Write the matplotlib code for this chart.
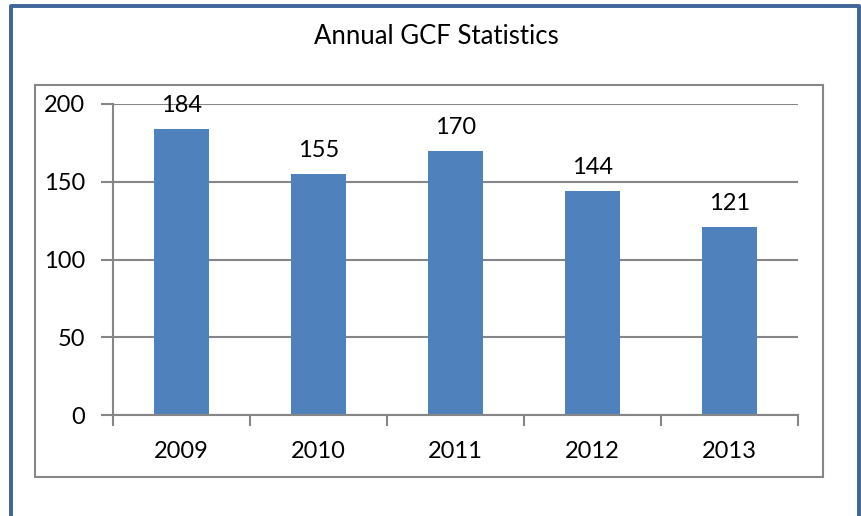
import matplotlib
matplotlib.use("Agg")
import matplotlib.pyplot as plt
from matplotlib.patches import Rectangle
from matplotlib.lines import Line2D

# data
years = ["2009", "2010", "2011", "2012", "2013"]
gcf_counts = [184, 155, 170, 144, 121]
y_ticks = [0, 50, 100, 150, 200]

plt.rcParams["font.family"] = ["Lato", "DejaVu Sans"]

BAR = "#4F81BD"
GRID = "#868686"
FRAME = "#3F6497"

fig = plt.figure(figsize=(8.61, 5.16), dpi=100)
ax = fig.add_axes([113 / 861, 1 - 415 / 516, (798 - 113) / 861, (415 - 104) / 516])

x = range(len(years))
ax.bar(x, gcf_counts, width=0.4, color=BAR, zorder=3)
for xi, v in zip(x, gcf_counts):
    ax.annotate(str(v), (xi, v), xytext=(0, 17), textcoords="offset points",
                ha="center", va="center", fontsize=17)

ax.set_xlim(-0.5, len(years) - 0.5)
ax.set_ylim(0, 200)
ax.set_yticks(y_ticks)
ax.set_yticklabels([str(t) for t in y_ticks], fontsize=17)
ax.set_xticks(list(x))
ax.set_xticklabels(years, fontsize=17)
ax.tick_params(axis="x", length=0, pad=19)
ax.set_xticks([i - 0.5 for i in range(len(years) + 1)], minor=True)
ax.tick_params(axis="x", which="minor", length=8, width=1.5, color=GRID)
ax.tick_params(axis="y", length=9, width=1.5, color=GRID, pad=11)
ax.grid(axis="y", color=GRID, linewidth=1.5, zorder=0)
for s in ("top", "right"):
    ax.spines[s].set_visible(False)
for s in ("left", "bottom"):
    ax.spines[s].set_color(GRID)
    ax.spines[s].set_linewidth(1.5)
    ax.spines[s].set_zorder(4)

fig.text(436 / 861, 1 - 37 / 516, "Annual GCF Statistics", ha="center", va="center",
         fontsize=18.5)

# inner plot-area box
fig.patches.append(Rectangle((35 / 861, 1 - 477 / 516), (823 - 35) / 861, (477 - 85) / 516,
                             transform=fig.transFigure, fill=False, edgecolor=GRID,
                             linewidth=1.5))
# outer chart border (left, top, right)
fig.lines.append(Line2D([10.5 / 861, 10.5 / 861, 858.5 / 861, 858.5 / 861],
                        [0, 1 - 5.5 / 516, 1 - 5.5 / 516, 0],
                        transform=fig.transFigure, color=FRAME, linewidth=2.8))

fig.savefig("out.png", dpi=100)
